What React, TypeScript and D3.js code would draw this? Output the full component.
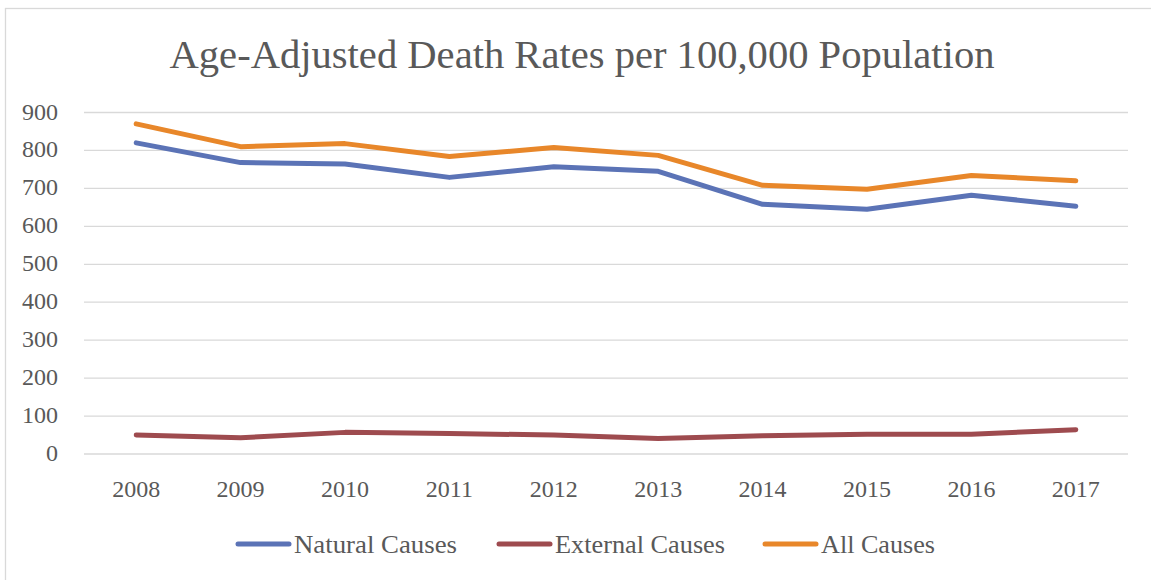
import { useEffect, useRef } from 'react';
import * as d3 from 'd3';

const years = ['2008', '2009', '2010', '2011', '2012', '2013', '2014', '2015', '2016', '2017'];
const naturalCauses = [820, 768, 764, 729, 757, 745, 658, 645, 682, 653];
const externalCauses = [50, 43, 57, 54, 50, 41, 48, 52, 52, 64];
const allCauses = [870, 810, 818, 784, 808, 787, 708, 698, 734, 720];
const yTicks = [0, 100, 200, 300, 400, 500, 600, 700, 800, 900];
const seriesNames = ['Natural Causes', 'External Causes', 'All Causes'];
const seriesColors = ['#5b73b6', '#9e4b4f', '#e8872a'];

export default function App() {
  const svgRef = useRef<SVGSVGElement | null>(null);

  useEffect(() => {
    if (!svgRef.current) return;
    const svg = d3.select(svgRef.current);
    svg.selectAll('*').remove();

    const width = 1151;
    const height = 580;
    const margin = { top: 112.5, right: 23, bottom: 126, left: 84 };
    const font = "'Book Antiqua', 'Palatino Linotype', Palatino, 'Liberation Serif', serif";
    const textColor = '#595959';

    // chart frame
    svg.append('rect')
      .attr('x', 5.5)
      .attr('y', 8.5)
      .attr('width', width + 20)
      .attr('height', height + 20)
      .attr('fill', '#fff')
      .attr('stroke', '#d9d9d9')
      .attr('stroke-width', 1.3);

    const x = d3.scaleBand()
      .domain(years)
      .range([margin.left, width - margin.right]);

    const y = d3.scaleLinear()
      .domain([0, 900])
      .range([height - margin.bottom, margin.top]);

    const cx = (d: string) => (x(d) ?? 0) + x.bandwidth() / 2;

    // gridlines
    svg.append('g')
      .selectAll('line')
      .data(yTicks)
      .join('line')
      .attr('x1', margin.left)
      .attr('x2', width - margin.right)
      .attr('y1', d => y(d))
      .attr('y2', d => y(d))
      .attr('stroke', '#d9d9d9')
      .attr('stroke-width', 1.3);

    // y tick labels
    svg.append('g')
      .attr('font-family', font)
      .attr('font-size', 24)
      .attr('fill', textColor)
      .attr('text-anchor', 'end')
      .selectAll('text')
      .data(yTicks)
      .join('text')
      .attr('x', 58)
      .attr('y', d => y(d) + 7)
      .text(d => d);

    // x tick labels
    svg.append('g')
      .attr('font-family', font)
      .attr('font-size', 24)
      .attr('fill', textColor)
      .attr('text-anchor', 'middle')
      .selectAll('text')
      .data(years)
      .join('text')
      .attr('x', d => cx(d))
      .attr('y', 497)
      .text(d => d);

    // series lines
    const series = [naturalCauses, externalCauses, allCauses];
    const line = d3.line<number>()
      .x((_, i) => cx(years[i]))
      .y(d => y(d));

    svg.append('g')
      .selectAll('path')
      .data(series)
      .join('path')
      .attr('d', d => line(d))
      .attr('fill', 'none')
      .attr('stroke', (_, i) => seriesColors[i])
      .attr('stroke-width', 5)
      .attr('stroke-linecap', 'round')
      .attr('stroke-linejoin', 'round');

    // title
    svg.append('text')
      .attr('x', 582)
      .attr('y', 68)
      .attr('text-anchor', 'middle')
      .attr('font-family', font)
      .attr('font-size', 40.6)
      .attr('fill', textColor)
      .text('Age-Adjusted Death Rates per 100,000 Population');

    // legend
    const legendX = [238, 499, 765];
    const legendTextW = [163, 170, 114];
    const legend = svg.append('g')
      .selectAll('g')
      .data(seriesNames)
      .join('g')
      .attr('transform', (_, i) => `translate(${legendX[i]},544)`);

    legend.append('line')
      .attr('x1', 0)
      .attr('x2', 51)
      .attr('stroke', (_, i) => seriesColors[i])
      .attr('stroke-width', 5)
      .attr('stroke-linecap', 'round');

    legend.append('text')
      .attr('x', 56)
      .attr('y', 8.5)
      .attr('font-family', font)
      .attr('font-size', 25)
      .attr('fill', textColor)
      .attr('textLength', (_, i) => legendTextW[i])
      .attr('lengthAdjust', 'spacingAndGlyphs')
      .text(d => d);
  }, []);

  return (
    <svg
      ref={svgRef}
      width={1151}
      height={580}
      style={{ position: 'absolute', left: 0, top: 0, background: '#fff' }}
    />
  );
}
